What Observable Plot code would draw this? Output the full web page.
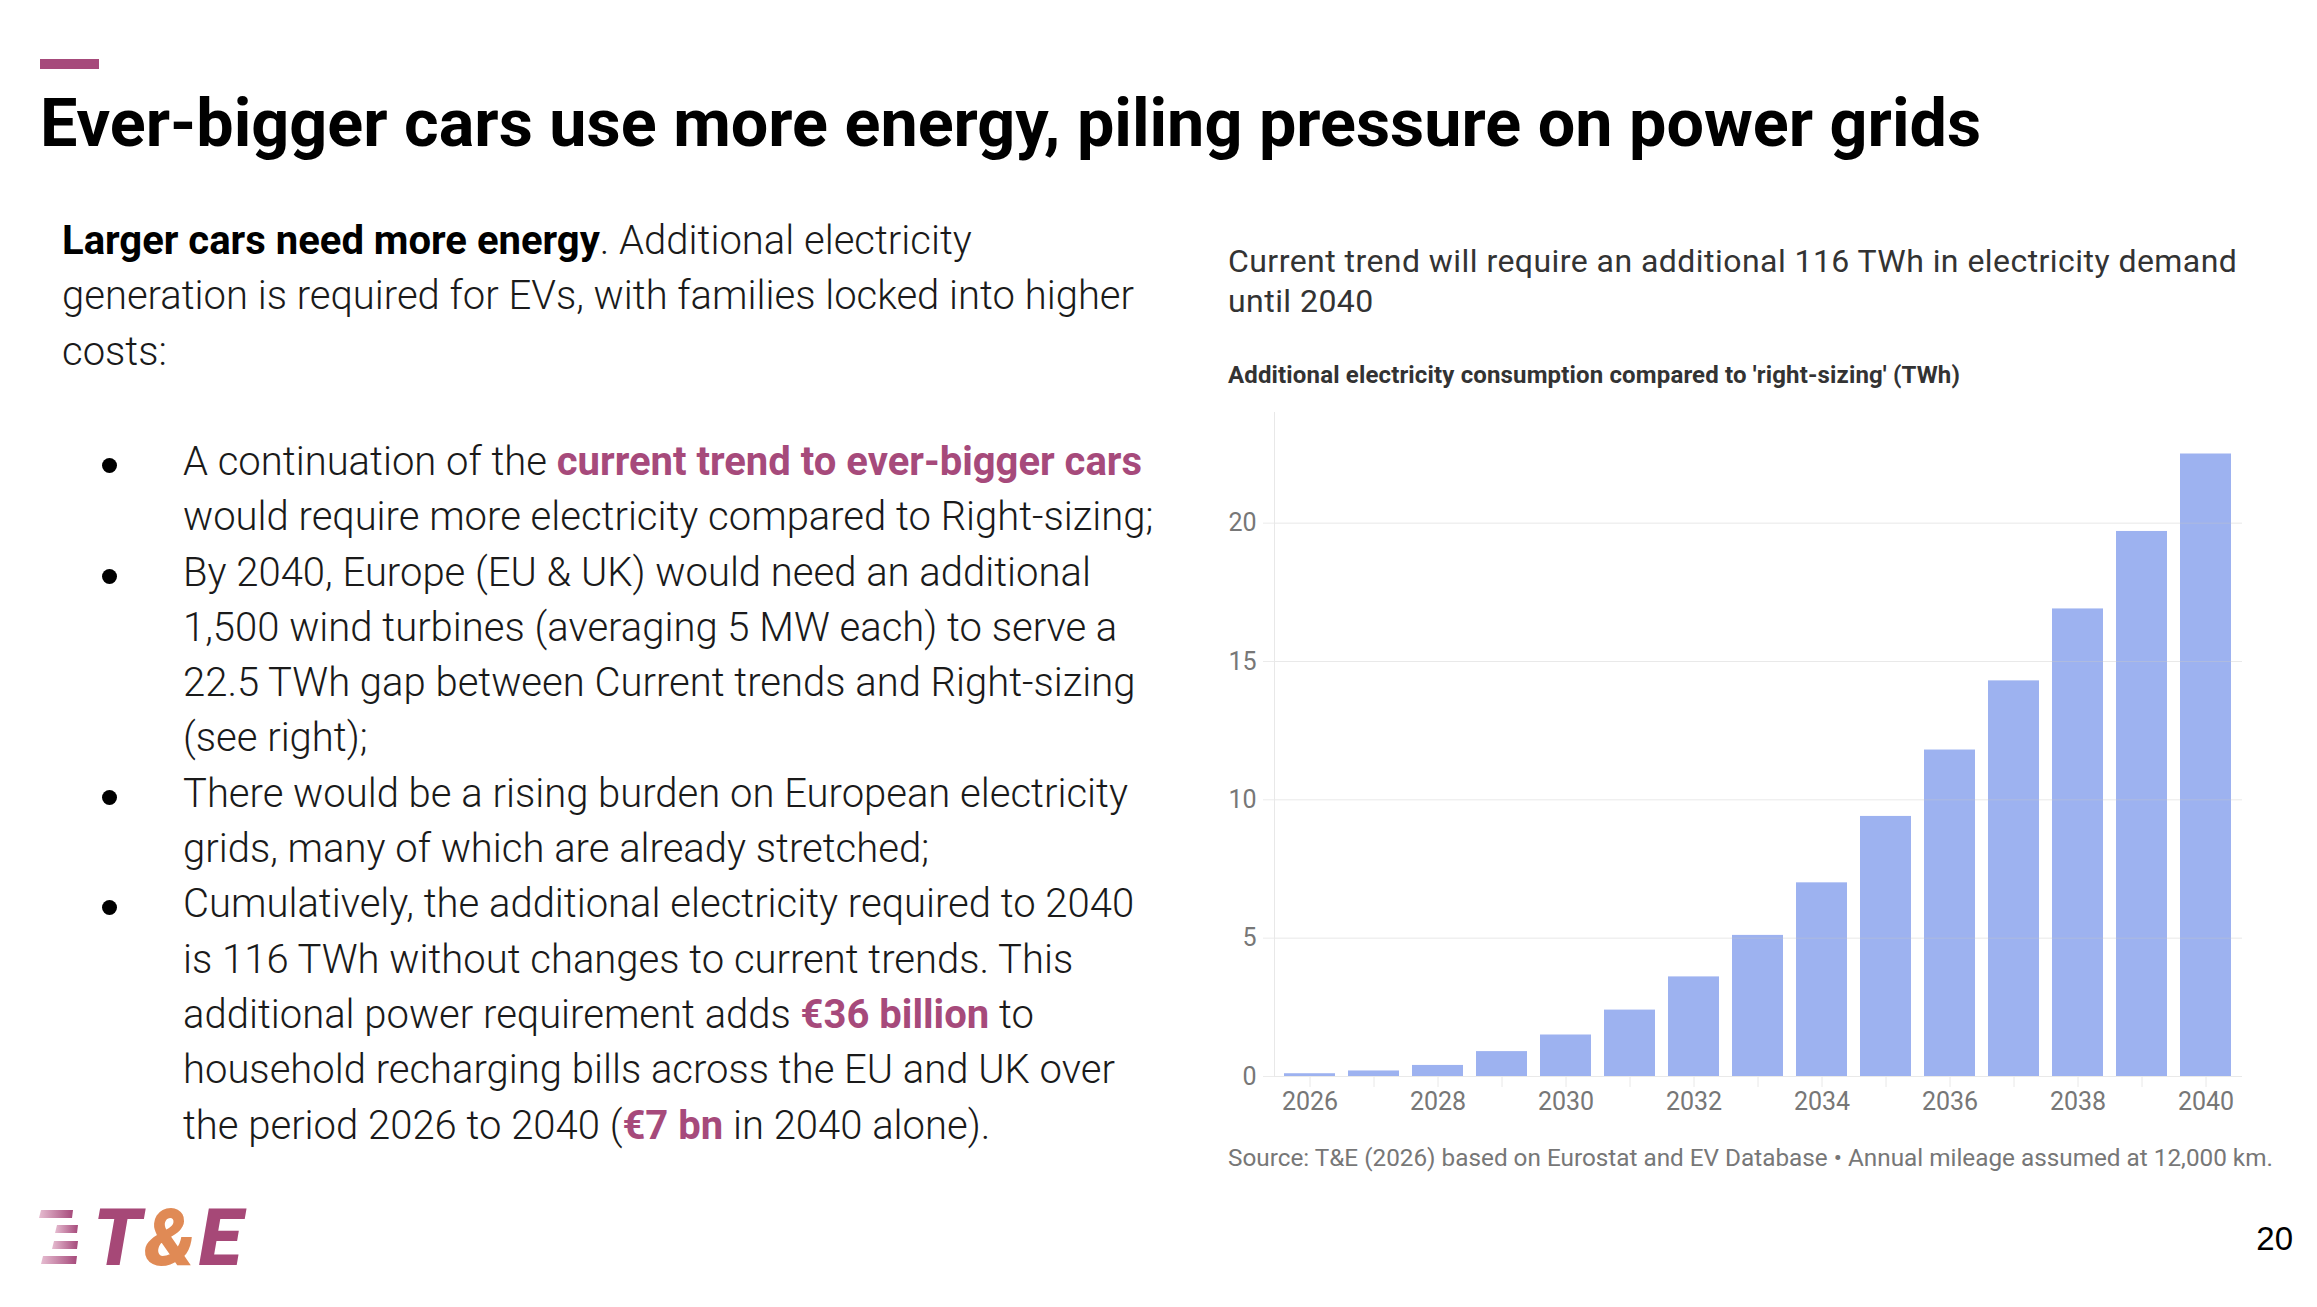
<!DOCTYPE html>
<html><head><meta charset="utf-8">
<script src="https://cdn.jsdelivr.net/npm/d3@7"></script>
<script src="https://cdn.jsdelivr.net/npm/@observablehq/plot@0.6"></script>
<style>
html,body{margin:0;padding:0;background:#fff;}
body{width:2317px;height:1307px;position:relative;overflow:hidden;font-family:Roboto,sans-serif;}
.abs{position:absolute;white-space:nowrap;}
#accent{left:40px;top:59px;width:59px;height:10px;background:#a64a7b;}
#title{left:40px;top:90px;font-size:66.5px;font-weight:700;line-height:67px;color:#000;}
#intro{left:62px;top:213px;font-size:40px;line-height:55.3px;font-weight:300;color:#1a1a1a;}
#intro b{font-weight:700;color:#000;}
#bullets{left:183px;top:434px;font-size:40px;line-height:55.3px;font-weight:300;color:#1a1a1a;}
.item{position:relative;}
.item::before{content:"";position:absolute;left:-81px;top:24px;width:15px;height:15px;border-radius:50%;background:#000;}
.pink{font-weight:700;color:#a64a7b;}
#sub{left:1228px;top:241px;font-size:32px;line-height:40px;letter-spacing:0.45px;color:#333;}
#ctitle{left:1228px;top:361px;font-size:24px;line-height:28px;font-weight:700;letter-spacing:0.15px;color:#333;}
#chart{left:1200px;top:400px;}
#source{left:1228px;top:1143px;font-size:24.3px;line-height:30px;color:#777;}
#page{right:24px;top:1222px;font-family:"Liberation Sans",Arial,sans-serif;font-size:33px;line-height:33px;color:#000;}
#logo{left:0;top:1180px;}
</style>
</head><body>
<div id="accent" class="abs"></div>
<div id="title" class="abs">Ever-bigger cars use more energy, piling pressure on power grids</div>
<div id="intro" class="abs"><b>Larger cars need more energy</b>. Additional electricity<br>generation is required for EVs, with families locked into higher<br>costs:</div>
<div id="bullets" class="abs">
<div class="item">A continuation of the <span class="pink">current trend to ever-bigger cars</span><br>would require more electricity compared to Right-sizing;</div>
<div class="item">By 2040, Europe (EU &amp; UK) would need an additional<br>1,500 wind turbines (averaging 5 MW each) to serve a<br>22.5 TWh gap between Current trends and Right-sizing<br>(see right);</div>
<div class="item">There would be a rising burden on European electricity<br>grids, many of which are already stretched;</div>
<div class="item">Cumulatively, the additional electricity required to 2040<br>is 116 TWh without changes to current trends. This<br>additional power requirement adds <span class="pink">€36 billion</span> to<br>household recharging bills across the EU and UK over<br>the period 2026 to 2040 (<span class="pink">€7 bn</span> in 2040 alone).</div>
</div>
<div id="sub" class="abs">Current trend will require an additional 116 TWh in electricity demand<br>until 2040</div>
<div id="ctitle" class="abs">Additional electricity consumption compared to 'right-sizing' (TWh)</div>
<div id="chart" class="abs"></div>
<div id="source" class="abs">Source: T&amp;E (2026) based on Eurostat and EV Database • Annual mileage assumed at 12,000 km.</div>
<div id="page" class="abs">20</div>
<svg id="logo" class="abs" width="300" height="127" viewBox="0 0 300 127">
<defs><linearGradient id="lg" x1="0" x2="1" y1="0" y2="0">
<stop offset="0" stop-color="#e6bdd1"/><stop offset="1" stop-color="#a64a7b"/></linearGradient></defs>
<g fill="url(#lg)">
<polygon points="41,30 73,30 72,38 39,38"/>
<polygon points="57,45 78,45 77,53 55,53"/>
<polygon points="54,61 78,61 77,69 52,69"/>
<polygon points="43,76 77,76 76,84 41,84"/>
</g>
<text x="93" y="85" font-family="Roboto" font-weight="900" font-style="italic" font-size="79" letter-spacing="3" fill="#a64877">T<tspan fill="#e08a55">&amp;</tspan>E</text>
</svg>
<script>
const years = [2026, 2027, 2028, 2029, 2030, 2031, 2032, 2033, 2034, 2035, 2036, 2037, 2038, 2039, 2040];
const values = [0.1, 0.2, 0.4, 0.9, 1.5, 2.4, 3.6, 5.1, 7.0, 9.4, 11.8, 14.3, 16.9, 19.7, 22.5];
const yTicks = [0, 5, 10, 15, 20];
const xLabels = [2026, 2028, 2030, 2032, 2034, 2036, 2038, 2040];
const yDomain = [0, 24];

const data = years.map((year, i) => ({year, value: values[i]}));

const chart = Plot.plot({
  width: 1117,
  height: 726,
  marginLeft: 74,
  marginRight: 75,
  marginTop: 12,
  marginBottom: 50,
  style: {fontFamily: "Roboto", fontSize: "25px", color: "#777", background: "transparent"},
  x: {type: "band", domain: years, paddingInner: 0.2, paddingOuter: 0.1},
  y: {domain: yDomain},
  marks: [
    Plot.barY(data, {x: "year", y: "value", fill: "#9db2f0"}),
    Plot.gridY(yTicks, {stroke: "#c8c8c8", strokeOpacity: 0.4}),
    Plot.frame({anchor: "left", stroke: "#e8e8e8"}),
    Plot.axisY({ticks: yTicks, tickSize: 11, tickPadding: 7, stroke: "#ebebeb", label: null}),
    Plot.axisX({ticks: years, tickSize: 11, tickPadding: 5, stroke: "#e8e8e8", label: null,
      tickFormat: d => xLabels.includes(d) ? String(d) : ""})
  ]
});
document.getElementById("chart").appendChild(chart);
</script>
</body></html>
